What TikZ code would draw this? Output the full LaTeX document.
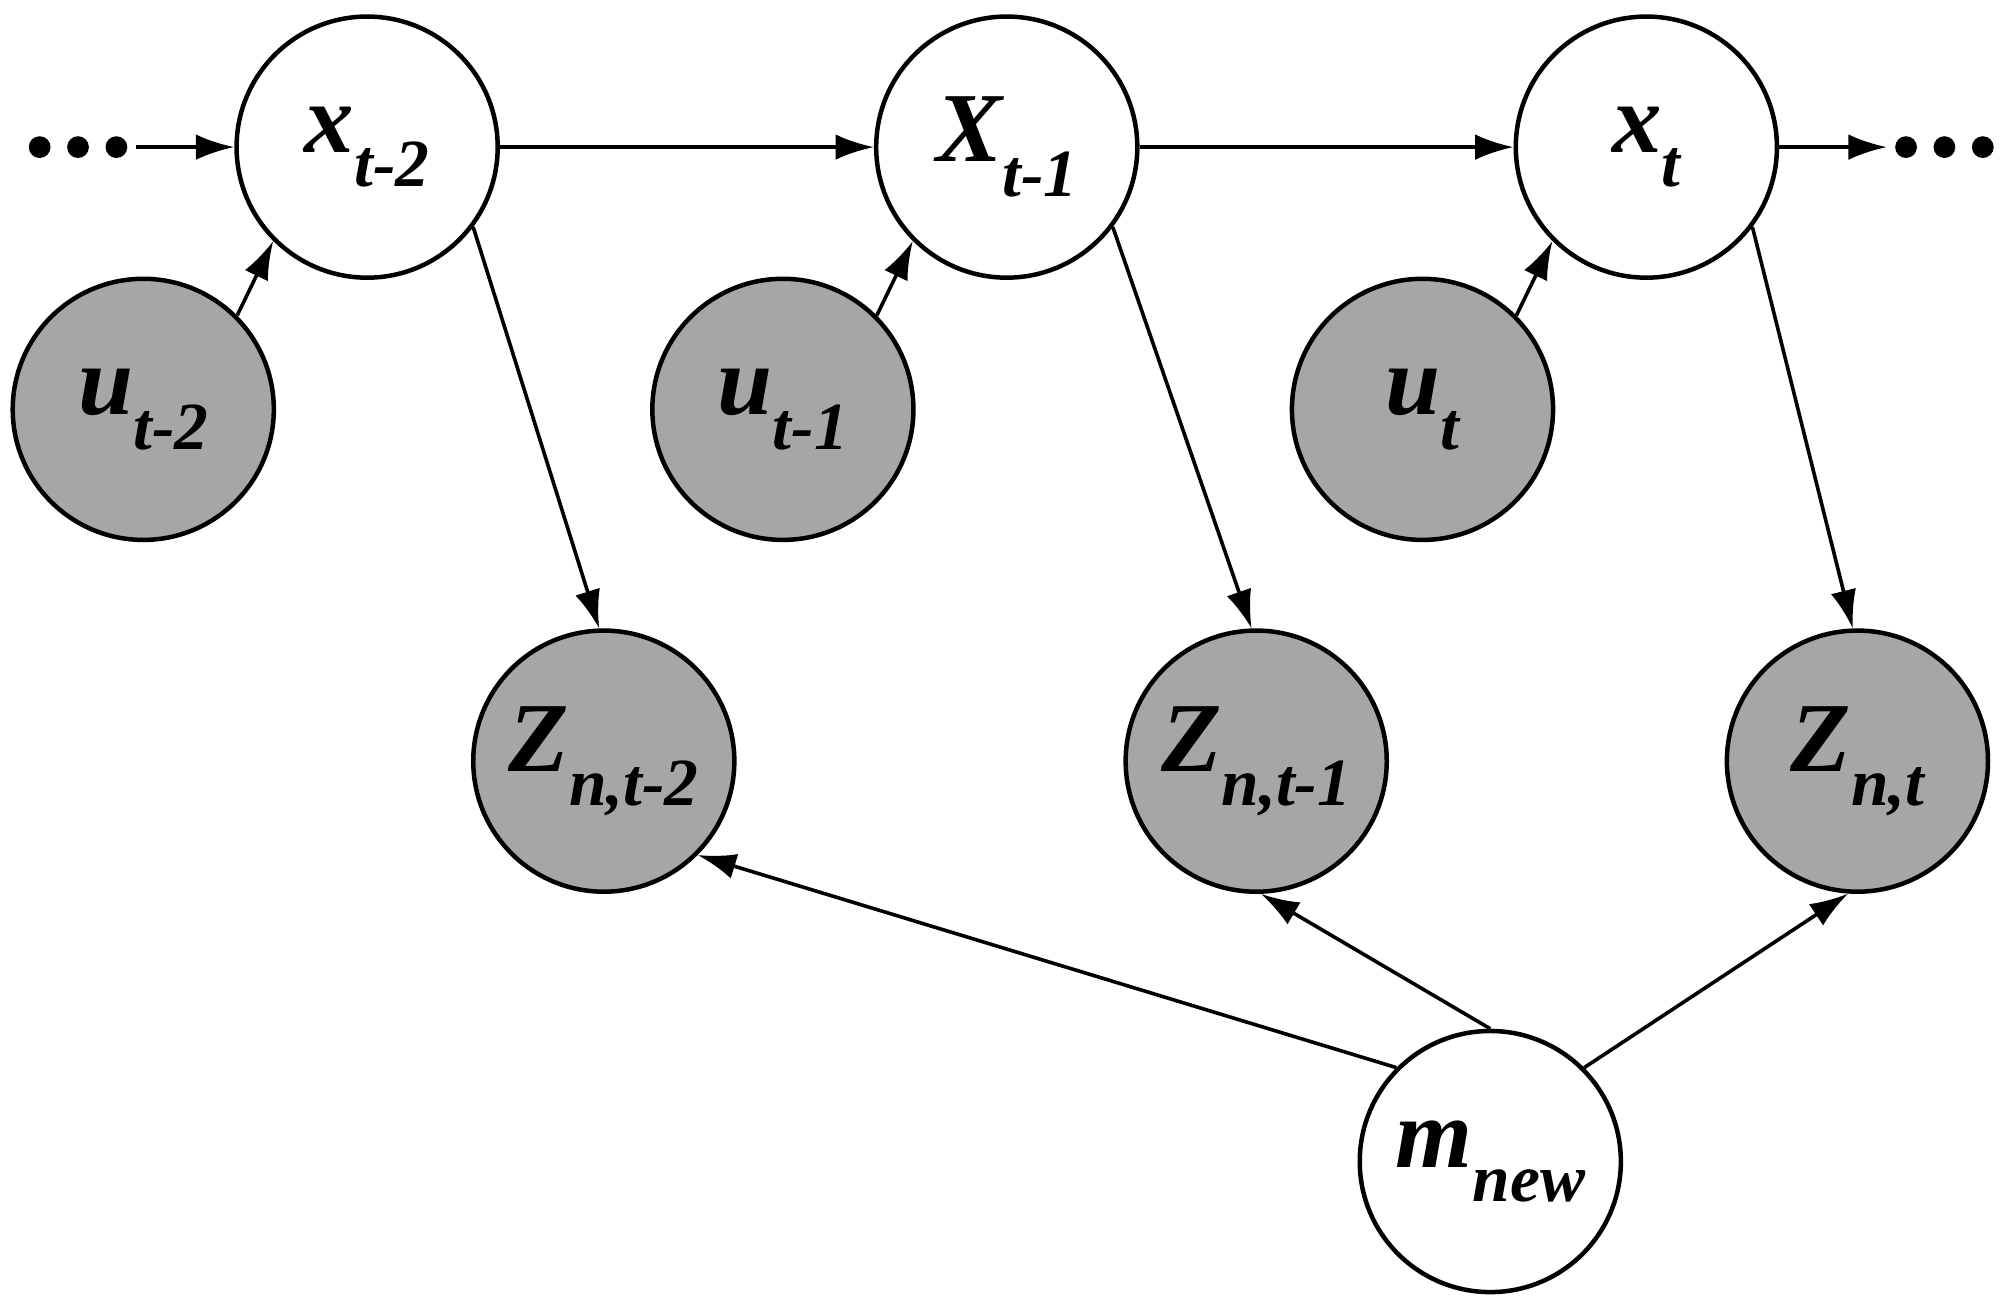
\documentclass[tikz,border=0pt]{standalone}
\usepackage{fontspec}
\setmainfont{Liberation Serif}
\usetikzlibrary{arrows.meta}
\newcommand{\lbl}[2]{\textbf{\textit{#1\raisebox{-0.35em}{\fontsize{15}{15}\selectfont #2}}}}
\begin{document}
\begin{tikzpicture}[x=0.01cm,y=-0.01cm,
  st/.style={circle,draw,line width=1pt,minimum size=2.04cm,inner sep=0pt,font=\fontsize{22}{26}\selectfont},
  obs/.style={st,fill=black!35},
  hid/.style={st,fill=white},
  dot/.style={circle,fill=black,inner sep=0pt,minimum size=0.17cm},
  ar/.style={-{Latex[length=3mm,width=2mm]},line width=0.8pt}]
\useasboundingbox (0,0) rectangle (1565,1021);
\node[hid] (x1) at (287,115) {\lbl{x}{t-2}};
\node[hid] (x2) at (787,115) {\lbl{X}{t-1}};
\node[hid] (x3) at (1287,115) {\lbl{x}{t}};
\node[obs] (u1) at (112,320) {\lbl{u}{t-2}};
\node[obs] (u2) at (612,320) {\lbl{u}{t-1}};
\node[obs] (u3) at (1112,320) {\lbl{u}{t}};
\node[obs] (z1) at (472,595) {\lbl{Z}{n,t-2}};
\node[obs] (z2) at (982,595) {\lbl{Z}{n,t-1}};
\node[obs] (z3) at (1452,595) {\lbl{Z}{n,t}};
\node[hid] (m) at (1165,908) {\lbl{m}{new}};
\node[dot] (l1) at (31,115) {}; \node[dot] (l2) at (61,115) {}; \node[dot] (l3) at (91,115) {};
\node[dot] (r1) at (1490,115) {}; \node[dot] (r2) at (1520,115) {}; \node[dot] (r3) at (1550,115) {};
\draw[ar] (l3) ++(15,0) coordinate (ls) -- (x1);
\coordinate (re) at (1475,115);
\draw[ar] (x3) -- (re);
\draw[ar] (x1) -- (x2);
\draw[ar] (x2) -- (x3);
\foreach \i in {1,2,3}{
  \draw[ar] (u\i.45) -- (x\i.225);
  \draw[ar] (x\i.-37) -- (z\i.92);
}
\draw[ar] (m.135) -- (z1.-45);
\draw[ar] (m.90) -- (z2.-88);
\draw[ar] (m.45) -- (z3.-94);
\end{tikzpicture}
\end{document}
